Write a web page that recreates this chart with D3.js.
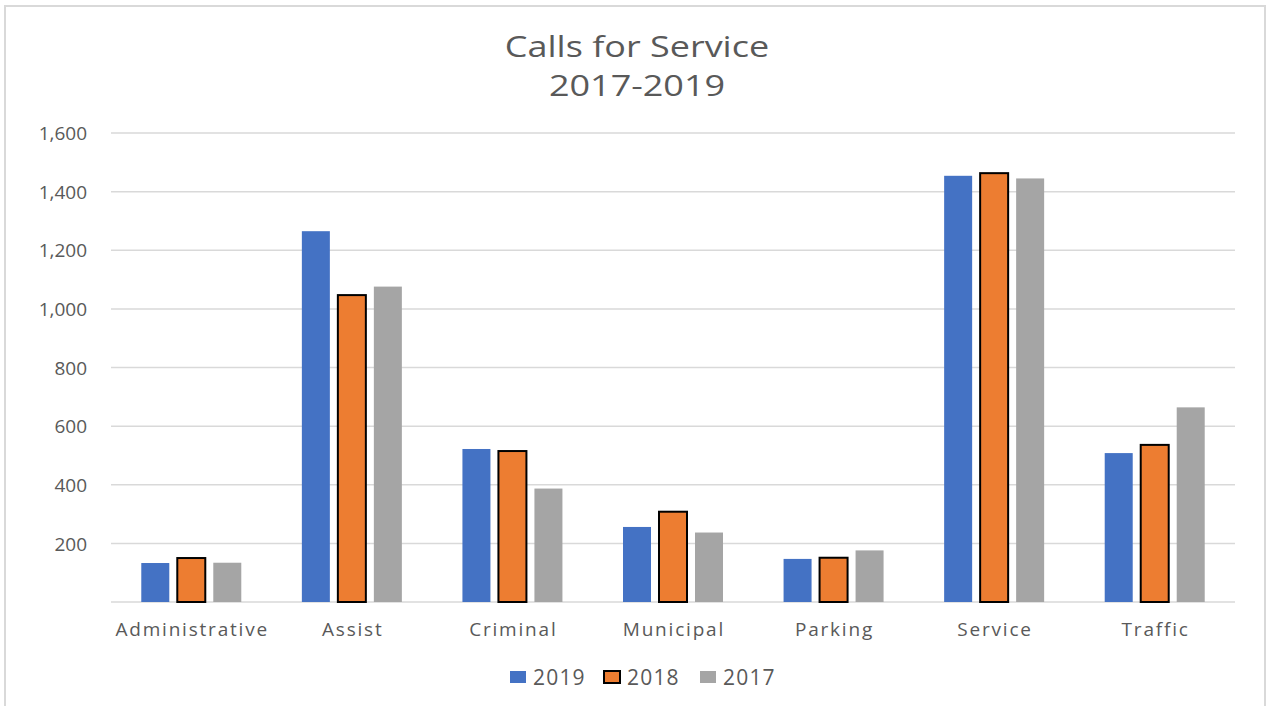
<!DOCTYPE html>
<html>
<head>
<meta charset="utf-8">
<script src="https://cdn.jsdelivr.net/npm/d3@7"></script>
<style>
  html, body { margin: 0; padding: 0; background: #fff; }
  svg { display: block; }
</style>
</head>
<body>
<svg id="chart" width="1267" height="706"></svg>
<script>
const categories = ["Administrative", "Assist", "Criminal", "Municipal", "Parking", "Service", "Traffic"];
const seriesNames = ["2019", "2018", "2017"];
const values2019 = [133, 1265, 522, 256, 147, 1454, 508];
const values2018 = [150, 1047, 515, 308, 151, 1463, 536];
const values2017 = [134, 1076, 387, 237, 176, 1445, 664];
const yTicks = [200, 400, 600, 800, 1000, 1200, 1400, 1600];
const titleLines = ["Calls for Service", "2017-2019"];

const seriesValues = { "2019": values2019, "2018": values2018, "2017": values2017 };
const colors = { "2019": "#4472C4", "2018": "#ED7D31", "2017": "#A5A5A5" };

const svg = d3.select("#chart");
const W = 1267, H = 706;
const margin = { left: 111, right: 32, top: 133, bottom: 104 };
const plotRight = W - margin.right;
const plotBottom = H - margin.bottom;

// chart border
svg.append("rect")
  .attr("x", 5).attr("y", 6).attr("width", 1260).attr("height", 720)
  .attr("fill", "none").attr("stroke", "#d9d9d9").attr("stroke-width", 2);

const x = d3.scaleBand().domain(categories).range([margin.left, plotRight]).padding(0);
const groupWidth = 100;
const xSub = d3.scaleBand().domain(seriesNames)
  .range([0, groupWidth]).paddingInner(8 / 36).paddingOuter(0);
const y = d3.scaleLinear().domain([0, 1600]).range([plotBottom, margin.top]);

const font = "'Open Sans', sans-serif";
const textColor = "#595959";

// gridlines
svg.append("g").selectAll("line")
  .data([0].concat(yTicks))
  .join("line")
  .attr("x1", margin.left).attr("x2", plotRight)
  .attr("y1", d => y(d)).attr("y2", d => y(d))
  .attr("stroke", "#d9d9d9").attr("stroke-width", 1.5);

// y axis labels
const yAxis = d3.axisLeft(y).tickValues(yTicks).tickSize(0).tickPadding(0)
  .tickFormat(d3.format(","));
const yg = svg.append("g").attr("transform", `translate(${87},0)`).call(yAxis);
yg.select(".domain").remove();
yg.selectAll("text")
  .attr("fill", textColor).attr("font-family", font).attr("font-size", 19)
  .attr("dy", "0.35em");

// x axis labels
const xAxis = d3.axisBottom(x).tickSize(0).tickPadding(0);
const xg = svg.append("g").attr("transform", `translate(0,${plotBottom})`).call(xAxis);
xg.select(".domain").remove();
xg.selectAll("text")
  .attr("fill", textColor).attr("font-family", font).attr("font-size", 19)
  .attr("letter-spacing", 1.8)
  .attr("dx", 0.9)
  .attr("y", 34).attr("dy", 0);

// bars
const groups = svg.append("g").selectAll("g")
  .data(categories)
  .join("g")
  .attr("transform", d => `translate(${x(d) + (x.bandwidth() - groupWidth) / 2},0)`);

groups.selectAll("rect")
  .data((c, i) => seriesNames.map(s => ({ s, v: seriesValues[s][i] })))
  .join("rect")
  .attr("x", d => xSub(d.s))
  .attr("width", xSub.bandwidth())
  .attr("y", d => y(d.v))
  .attr("height", d => plotBottom - y(d.v))
  .attr("fill", d => colors[d.s])
  .attr("stroke", d => d.s === "2018" ? "#000" : "none")
  .attr("stroke-width", 2);

// title
svg.append("g").selectAll("text")
  .data(titleLines)
  .join("text")
  .attr("transform", (d, i) => `translate(637,${57 + i * 39}) scale(1.2,1)`)
  .attr("text-anchor", "middle")
  .attr("fill", textColor).attr("font-family", font).attr("font-size", 30)
  .text(d => d);

// legend
const legendX = [510, 604, 700];
const lg = svg.append("g").selectAll("g")
  .data(seriesNames)
  .join("g")
  .attr("transform", (d, i) => `translate(${legendX[i]},${671})`);
lg.append("rect")
  .attr("width", 16).attr("height", 12)
  .attr("fill", d => colors[d])
  .attr("stroke", d => d === "2018" ? "#000" : "none")
  .attr("stroke-width", 2);
lg.append("text")
  .attr("x", 23).attr("y", 6).attr("dy", "0.36em")
  .attr("fill", textColor).attr("font-family", font).attr("font-size", 21)
  .attr("letter-spacing", 1.2)
  .text(d => d);
</script>
</body>
</html>
